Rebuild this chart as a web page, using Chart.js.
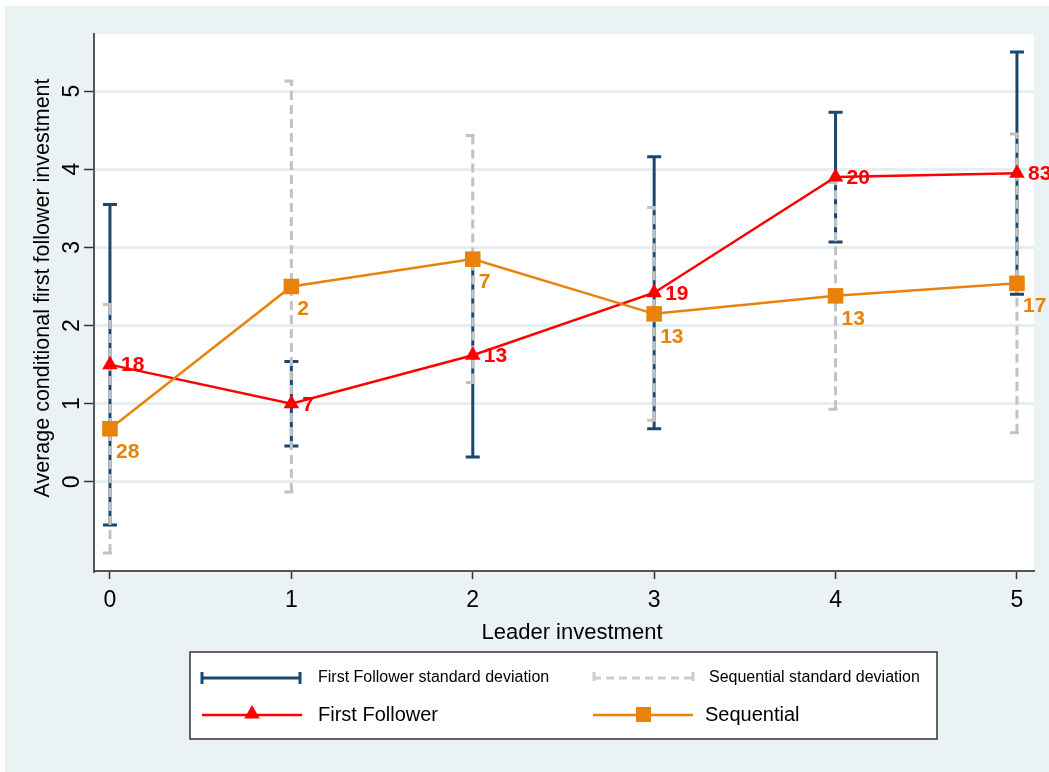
<!DOCTYPE html>
<html lang="en">
<head>
<meta charset="UTF-8">
<title>Average conditional first follower investment</title>
<script src="https://cdn.jsdelivr.net/npm/chart.js"></script>
<style>
  body { margin: 0; background: #fff; }
</style>
</head>
<body>
<canvas id="chart" width="1049" height="772"></canvas>
<script>
// values
const leader   = [0, 1, 2, 3, 4, 5];
const ffMean   = [1.50, 1.00, 1.62, 2.42, 3.90, 3.95];
const ffSd     = [2.05, 0.54, 1.30, 1.74, 0.83, 1.55];
const ffN      = [18, 7, 13, 19, 20, 83];
const seqMean  = [0.68, 2.50, 2.85, 2.15, 2.38, 2.54];
const seqSd    = [1.59, 2.63, 1.58, 1.36, 1.45, 1.91];
const seqN     = [28, 2, 7, 13, 13, 17];
const xTicks   = [0, 1, 2, 3, 4, 5];
const yTicks   = [0, 1, 2, 3, 4, 5];

const FONT = "'Liberation Sans', Arial, sans-serif";
const navy = '#1a476f', gray = '#c2c2c2', red = '#ff0000', orange = '#e8820a';
const bg = '#eaf2f3';

function errorBar(ctx, px, top, bot, color, dash) {
  ctx.strokeStyle = color;
  ctx.setLineDash(dash);
  ctx.beginPath();
  ctx.moveTo(px, bot); ctx.lineTo(px, top);
  ctx.stroke();
  ctx.beginPath();
  ctx.moveTo(px - 7, top); ctx.lineTo(px + 7, top);
  ctx.moveTo(px - 7, bot); ctx.lineTo(px + 7, bot);
  ctx.stroke();
}

function triangle(ctx, x, y, r, color) {
  ctx.fillStyle = color;
  ctx.beginPath();
  ctx.moveTo(x, y - r);
  ctx.lineTo(x + r * 0.866, y + r / 2);
  ctx.lineTo(x - r * 0.866, y + r / 2);
  ctx.closePath();
  ctx.fill();
}

const stata = {
  id: 'stata',
  beforeDraw(chart) {
    const { ctx, chartArea: a, width, height } = chart;
    ctx.save();
    ctx.fillStyle = '#fff';
    ctx.fillRect(0, 0, width, height);
    ctx.fillStyle = bg;
    ctx.fillRect(5, 6, width - 5, height - 6);
    ctx.fillStyle = '#fff';
    ctx.fillRect(a.left, a.top, a.right - a.left, a.bottom - a.top);
    ctx.restore();
  },
  beforeDatasetsDraw(chart) {
    const { ctx, scales: { x, y } } = chart;
    ctx.save();
    ctx.lineWidth = 3;
    ctx.lineCap = 'butt';
    leader.forEach((v, i) => {
      errorBar(ctx, x.getPixelForValue(v), y.getPixelForValue(ffMean[i] + ffSd[i]),
               y.getPixelForValue(ffMean[i] - ffSd[i]), navy, []);
    });
    leader.forEach((v, i) => {
      errorBar(ctx, x.getPixelForValue(v), y.getPixelForValue(seqMean[i] + seqSd[i]),
               y.getPixelForValue(seqMean[i] - seqSd[i]), gray, [9, 5]);
    });
    ctx.restore();
  },
  afterDatasetsDraw(chart) {
    const { ctx, scales: { x, y } } = chart;
    ctx.save();
    ctx.font = 'bold 21px ' + FONT;
    ctx.textAlign = 'left';
    ctx.textBaseline = 'middle';
    ctx.fillStyle = orange;
    leader.forEach((v, i) => {
      ctx.fillText(String(seqN[i]), x.getPixelForValue(v) + 6, y.getPixelForValue(seqMean[i]) + 23);
    });
    ctx.fillStyle = red;
    leader.forEach((v, i) => {
      ctx.fillText(String(ffN[i]), x.getPixelForValue(v) + 11, y.getPixelForValue(ffMean[i]) + 1);
    });
    ctx.restore();
  },
  afterDraw(chart) {
    const ctx = chart.ctx;
    ctx.save();
    // axis titles
    ctx.fillStyle = '#000';
    ctx.font = '22px ' + FONT;
    ctx.textAlign = 'center';
    ctx.textBaseline = 'middle';
    ctx.fillText('Leader investment', 572, 633);
    ctx.save();
    ctx.translate(43, 288);
    ctx.rotate(-Math.PI / 2);
    ctx.font = '21.5px ' + FONT;
    ctx.fillText('Average conditional first follower investment', 0, 0);
    ctx.restore();

    // legend
    const bx = 190, by = 652, bw = 747, bh = 87;
    ctx.fillStyle = '#fff';
    ctx.fillRect(bx, by, bw, bh);
    ctx.strokeStyle = '#333';
    ctx.lineWidth = 1.5;
    ctx.strokeRect(bx, by, bw, bh);

    const r1 = 678, r2 = 715;
    ctx.lineWidth = 3;
    // navy sd key
    ctx.strokeStyle = navy;
    ctx.beginPath();
    ctx.moveTo(201, r1); ctx.lineTo(301, r1);
    ctx.moveTo(202, r1 - 6); ctx.lineTo(202, r1 + 6);
    ctx.moveTo(300, r1 - 6); ctx.lineTo(300, r1 + 6);
    ctx.stroke();
    // gray sd key
    ctx.strokeStyle = '#cdcdcd';
    ctx.setLineDash([8, 5]);
    ctx.beginPath();
    ctx.moveTo(593, r1); ctx.lineTo(694, r1);
    ctx.stroke();
    ctx.setLineDash([]);
    ctx.beginPath();
    ctx.moveTo(594, r1 - 6); ctx.lineTo(594, r1 + 3);
    ctx.moveTo(693, r1 - 6); ctx.lineTo(693, r1 + 3);
    ctx.stroke();
    // red line key
    ctx.lineWidth = 2.5;
    ctx.strokeStyle = red;
    ctx.beginPath();
    ctx.moveTo(202, r2); ctx.lineTo(302, r2);
    ctx.stroke();
    triangle(ctx, 252, r2 - 1, 9, red);
    // orange line key
    ctx.strokeStyle = orange;
    ctx.beginPath();
    ctx.moveTo(593, r2); ctx.lineTo(693, r2);
    ctx.stroke();
    ctx.fillStyle = orange;
    ctx.fillRect(636, r2 - 8, 15, 15);

    ctx.fillStyle = '#000';
    ctx.textAlign = 'left';
    ctx.font = '16px ' + FONT;
    ctx.fillText('First Follower standard deviation', 318, r1);
    ctx.fillText('Sequential standard deviation', 709, r1);
    ctx.font = '20px ' + FONT;
    ctx.fillText('First Follower', 318, r2);
    ctx.fillText('Sequential', 705, r2);
    ctx.restore();
  }
};

new Chart(document.getElementById('chart'), {
  type: 'scatter',
  data: {
    datasets: [
      {
        label: 'Sequential',
        data: leader.map((v, i) => ({ x: v, y: seqMean[i] })),
        showLine: true,
        borderColor: orange,
        backgroundColor: orange,
        borderWidth: 2.5,
        pointStyle: 'rect',
        pointRadius: 11,
        pointHoverRadius: 11,
        pointBorderWidth: 0,
        clip: false
      },
      {
        label: 'First Follower',
        data: leader.map((v, i) => ({ x: v, y: ffMean[i] })),
        showLine: true,
        borderColor: red,
        backgroundColor: red,
        borderWidth: 2.5,
        pointStyle: 'triangle',
        pointRadius: 9,
        pointHoverRadius: 9,
        pointBorderWidth: 0,
        clip: false
      }
    ]
  },
  options: {
    responsive: false,
    animation: false,
    devicePixelRatio: 1,
    events: [],
    layout: { padding: { top: 34, right: 15, bottom: 121, left: 0 } },
    plugins: { legend: { display: false }, tooltip: { enabled: false } },
    scales: {
      x: {
        type: 'linear',
        min: -0.088,
        max: 5.094,
        afterBuildTicks: s => { s.ticks = xTicks.map(v => ({ value: v })); },
        afterFit: s => { s.height = 80; },
        border: { color: '#555', width: 2 },
        grid: { drawOnChartArea: false, tickLength: 8, tickColor: '#333', tickWidth: 1.5 },
        ticks: { color: '#000', font: { family: FONT, size: 23 }, padding: 8, maxRotation: 0 }
      },
      y: {
        min: -1.14,
        max: 5.73,
        afterBuildTicks: s => { s.ticks = yTicks.map(v => ({ value: v })); },
        afterFit: s => { s.width = 94; },
        border: { color: '#555', width: 2 },
        grid: { color: '#e6eef0', lineWidth: 3, tickLength: 10, tickColor: '#333', tickWidth: 1.5 },
        ticks: { color: '#000', font: { family: FONT, size: 23 }, padding: 5,
                 minRotation: 90, maxRotation: 90, crossAlign: 'center' }
      }
    }
  },
  plugins: [stata]
});
</script>
</body>
</html>
